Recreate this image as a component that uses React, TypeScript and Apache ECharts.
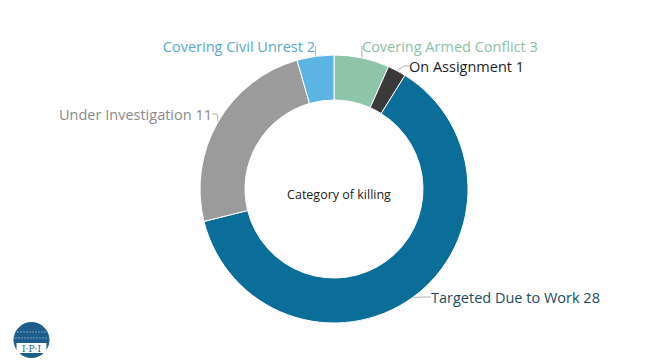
import React, { useEffect, useRef } from "react";
import * as echarts from "echarts";

const categories = [
  "Covering Armed Conflict",
  "On Assignment",
  "Targeted Due to Work",
  "Under Investigation",
  "Covering Civil Unrest",
];
const values = [3, 1, 28, 11, 2];
const sliceColors = ["#8ec5a9", "#3a3a3a", "#0b6e99", "#9b9b9b", "#5bb4e1"];
const labelColors = ["#8dbfa7", "#1e1e1e", "#1d4c60", "#8a8a8a", "#5aa8cc"];
const centerTitle = "Category of killing";

// label anchor placement (x, y, align) per slice, matching the reference layout
const labelSpots: [number, number, "left" | "right"][] = [
  [362, 46, "left"],
  [409, 66, "left"],
  [431, 297, "left"],
  [212, 114, "right"],
  [315, 46, "right"],
];

export default function App() {
  const ref = useRef<HTMLDivElement>(null);
  useEffect(() => {
    if (!ref.current) return;
    const chart = echarts.init(ref.current, null, { renderer: "svg" });
    const data = categories.map((name, i) => ({
      name,
      value: values[i],
      itemStyle: { color: sliceColors[i] },
      label: { color: labelColors[i] },
    }));
    chart.setOption({
      animation: false,
      backgroundColor: "#ffffff",
      title: {
        text: centerTitle,
        left: 334,
        top: 189,
        textAlign: "center",
        textVerticalAlign: "middle",
        textStyle: {
          fontFamily: "Open Sans",
          fontSize: 12.5,
          fontWeight: "normal",
          color: "#222222",
        },
      },
      series: [
        {
          type: "pie",
          center: [334, 189],
          radius: [89, 134],
          startAngle: 90,
          clockwise: true,
          avoidLabelOverlap: false,
          itemStyle: { borderColor: "#ffffff", borderWidth: 1 },
          label: {
            show: true,
            position: "outside",
            formatter: "{b} {c}",
            fontFamily: "Open Sans",
            fontSize: 14.5,
          },
          labelLine: {
            show: true,
            length: 7,
            length2: 5,
            lineStyle: { color: "#b0b0b0", width: 1 },
          },
          labelLayout: (params: any) => {
            const s = labelSpots[params.dataIndex];
            return { x: s[0], y: s[1], align: s[2], verticalAlign: "middle" };
          },
          emphasis: { disabled: true },
          data,
        },
      ],
      graphic: [
        {
          type: "group",
          left: 13,
          top: 322,
          children: [
            { type: "circle", shape: { cx: 18, cy: 18, r: 17.5 }, style: { fill: "#1c5d8c", stroke: "#1c5d8c", lineWidth: 1 } },
            { type: "line", shape: { x1: 4, y1: 10, x2: 32, y2: 10 }, style: { stroke: "#ffffff", lineWidth: 0.8, lineDash: [1, 2] } },
            { type: "line", shape: { x1: 2, y1: 16, x2: 34, y2: 16 }, style: { stroke: "#ffffff", lineWidth: 0.8, lineDash: [1, 2] } },
            { type: "rect", shape: { x: 3, y: 21, width: 30, height: 10 }, style: { fill: "#ffffff" } },
            {
              type: "text",
              style: {
                text: "I·P·I",
                x: 18,
                y: 26.5,
                align: "center",
                verticalAlign: "middle",
                fontFamily: "DejaVu Serif",
                fontSize: 9,
                fill: "#1c5d8c",
              },
            },
          ],
        },
      ],
    });
    return () => chart.dispose();
  }, []);
  return (
    <div
      ref={ref}
      style={{ position: "fixed", left: 0, top: 0, width: 672, height: 361 }}
    />
  );
}
